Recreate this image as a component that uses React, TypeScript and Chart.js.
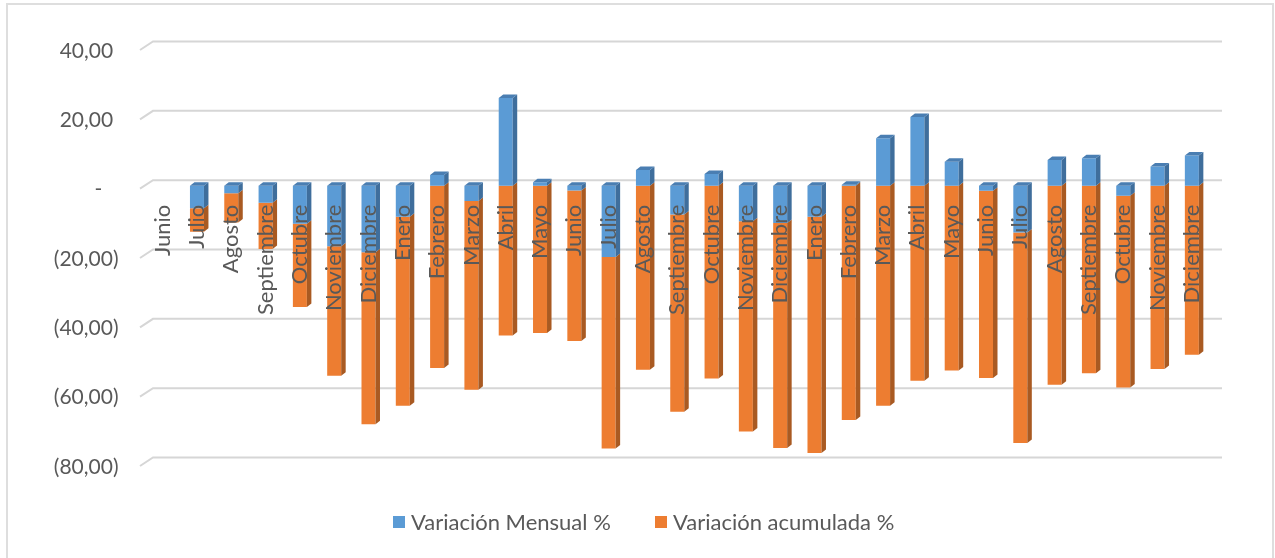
import React, { useEffect, useRef } from "react";
import { Chart, registerables } from "chart.js";

Chart.register(...registerables);

const categories = [
  "Junio", "Julio", "Agosto", "Septiembre", "Octubre", "Noviembre", "Diciembre",
  "Enero", "Febrero", "Marzo", "Abril", "Mayo", "Junio", "Julio", "Agosto",
  "Septiembre", "Octubre", "Noviembre", "Diciembre", "Enero", "Febrero", "Marzo",
  "Abril", "Mayo", "Junio", "Julio", "Agosto", "Septiembre", "Octubre", "Noviembre",
  "Diciembre",
];

// Stacked segments (Excel 3-D stacked column)
const variacionMensual = [
  0, -6.5, -2.2, -4.9, -11.0, -17.5, -19.2,
  -9.0, 3.1, -4.4, 25.3, 1.0, -1.4, -20.6, 4.5,
  -8.3, 3.4, -10.3, -10.8, -9.0, 0.3, 13.7,
  19.8, 6.9, -1.5, -13.5, 7.4, 7.9, -2.9, 5.5,
  8.7,
];

const variacionAcumulada = [
  0, -6.8, -8.4, -13.4, -24.0, -37.3, -49.6,
  -54.5, -52.6, -54.5, -43.2, -42.5, -43.4, -55.2, -53.1,
  -56.9, -55.6, -60.6, -64.9, -68.1, -67.6, -63.5,
  -56.3, -53.3, -54.0, -60.7, -57.4, -54.1, -55.3, -52.9,
  -48.8,
];

const yTickValues = [40, 20, 0, -20, -40, -60, -80];
const seriesNames = ["Variación Mensual %", "Variación acumulada %"];
const frontColors = ["#5B9BD5", "#ED7D31"];
const sideColors = ["#3F6E9C", "#A95A22"];
const topColors = ["#4A7EB2", "#C0662A"];

const FONT = "Lato, 'Open Sans', sans-serif";
const TEXT = "#595959";

function formatTick(v: number): string {
  if (v === 0) return "-   ";
  const s = Math.abs(v).toFixed(2).replace(".", ",");
  return v < 0 ? `(${s})` : `${s} `;
}

const gridPlugin = {
  id: "backWallGrid",
  beforeDatasetsDraw(chart: any) {
    const { ctx, chartArea, scales } = chart;
    const y = scales.y;
    ctx.save();
    ctx.strokeStyle = "#D6D6D6";
    ctx.lineWidth = 2;
    for (const v of yTickValues) {
      const py = y.getPixelForValue(v);
      ctx.beginPath();
      ctx.moveTo(chartArea.left - 5.5, py + 3);
      ctx.lineTo(chartArea.left + 7.5, py - 5.5);
      ctx.lineTo(chartArea.right + 13, py - 5.5);
      ctx.stroke();
    }
    ctx.restore();
  },
};

const depthPlugin = {
  id: "depth3d",
  afterDatasetsDraw(chart: any) {
    const ctx = chart.ctx;
    const dx = 4.5;
    const dy = 3.5;
    const n = chart.data.labels.length;
    ctx.save();
    for (let i = 0; i < n; i++) {
      let best: any = null;
      for (const k of [1, 0]) {
        const meta = chart.getDatasetMeta(k);
        const el = meta.data[i];
        if (!el) continue;
        const { x, y, base, width } = el.getProps(["x", "y", "base", "width"], true);
        const top = Math.min(y, base);
        const bot = Math.max(y, base);
        if (bot - top < 0.5) continue;
        const left = x - width / 2;
        const right = x + width / 2;
        ctx.fillStyle = sideColors[k];
        ctx.beginPath();
        ctx.moveTo(right, top);
        ctx.lineTo(right + dx, top - dy);
        ctx.lineTo(right + dx, bot - dy);
        ctx.lineTo(right, bot);
        ctx.closePath();
        ctx.fill();
        if (!best || top < best.top) best = { left, right, top, k };
      }
      if (best) {
        ctx.fillStyle = topColors[best.k];
        ctx.beginPath();
        ctx.moveTo(best.left, best.top);
        ctx.lineTo(best.left + dx, best.top - dy);
        ctx.lineTo(best.right + dx, best.top - dy);
        ctx.lineTo(best.right, best.top);
        ctx.closePath();
        ctx.fill();
      }
    }
    ctx.restore();
  },
};

export default function App() {
  const canvasRef = useRef<HTMLCanvasElement | null>(null);

  useEffect(() => {
    if (!canvasRef.current) return;
    const chart = new Chart(canvasRef.current, {
      type: "bar",
      data: {
        labels: categories,
        datasets: [
          {
            label: seriesNames[0],
            data: variacionMensual,
            backgroundColor: frontColors[0],
            borderWidth: 0,
            barPercentage: 0.408,
            categoryPercentage: 1,
          },
          {
            label: seriesNames[1],
            data: variacionAcumulada,
            backgroundColor: frontColors[1],
            borderWidth: 0,
            barPercentage: 0.408,
            categoryPercentage: 1,
          },
        ],
      },
      options: {
        animation: false,
        responsive: false,
        devicePixelRatio: 1,
        layout: { padding: { left: 0, right: 66, top: 47, bottom: 95 } },
        plugins: {
          legend: { display: false },
          tooltip: { enabled: false },
        },
        scales: {
          x: {
            type: "category",
            stacked: true,
            offset: true,
            position: { y: 0 } as any,
            z: 1,
            grid: { display: false, drawTicks: false },
            border: { display: false },
            ticks: {
              z: 1,
              autoSkip: false,
              minRotation: 90,
              maxRotation: 90,
              padding: 19,
              color: TEXT,
              font: { family: FONT, size: 22 },
            } as any,
          },
          y: {
            stacked: true,
            min: -80,
            max: 40,
            afterFit: (scale: any) => {
              scale.width = 145.5;
            },
            grid: { display: false, drawTicks: false },
            border: { display: false },
            ticks: {
              stepSize: 20,
              padding: 27,
              labelOffset: 4,
              color: TEXT,
              font: { family: FONT, size: 21 },
              callback: (v: any) => formatTick(Number(v)),
            },
          },
        },
      },
      plugins: [gridPlugin, depthPlugin],
    });
    return () => chart.destroy();
  }, []);

  const legendLefts = [393, 655];

  return (
    <div
      style={{
        position: "fixed",
        left: 0,
        top: 0,
        width: 1275,
        height: 558,
        background: "#fff",
        overflow: "hidden",
        fontFamily: FONT,
      }}
    >
      <div
        style={{
          position: "absolute",
          left: 6,
          top: 3,
          width: 1268,
          height: 570,
          border: "2px solid #DEDEDE",
          boxSizing: "border-box",
        }}
      />
      <canvas
        ref={canvasRef}
        width={1275}
        height={558}
        style={{ position: "absolute", left: 0, top: 0 }}
      />
      {seriesNames.map((name, i) => (
        <div
          key={name}
          style={{
            position: "absolute",
            left: legendLefts[i],
            top: 508,
            height: 28,
            display: "flex",
            alignItems: "center",
            gap: 6,
            whiteSpace: "nowrap",
          }}
        >
          <span
            style={{
              display: "inline-block",
              width: 12,
              height: 12,
              background: frontColors[i],
            }}
          />
          <span style={{ fontSize: 22, color: TEXT, lineHeight: "28px" }}>{name}</span>
        </div>
      ))}
    </div>
  );
}
